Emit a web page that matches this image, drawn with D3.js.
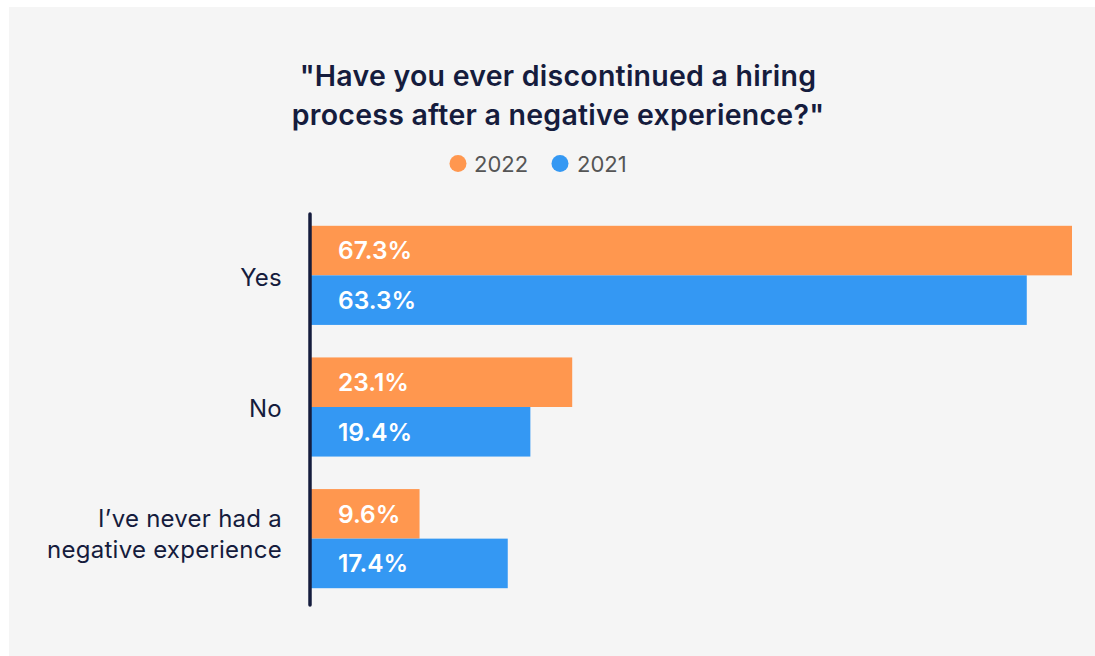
<!DOCTYPE html>
<html>
<head>
<meta charset="utf-8">
<script src="https://cdn.jsdelivr.net/npm/d3@7"></script>
<style>
  html, body { margin: 0; padding: 0; background: #ffffff; }
  svg { display: block; }
</style>
</head>
<body>
<div id="chart"></div>
<script>
// Survey answers and shares per year
const categories = ["Yes", "No", "I\u2019ve never had a negative experience"];
const categoryLines = [["Yes"], ["No"], ["I\u2019ve never had a", "negative experience"]];
const seriesNames = ["2022", "2021"];
const values2022 = [67.3, 23.1, 9.6];
const values2021 = [63.3, 19.4, 17.4];
const seriesColors = ["#ff974f", "#3498f3"];

const W = 1095, H = 656;
const font = "Inter, 'Open Sans', sans-serif";
const navy = "#151c3d";

const svg = d3.select("#chart").append("svg")
  .attr("width", W).attr("height", H);

// Panel background
svg.append("rect")
  .attr("x", 9).attr("y", 7)
  .attr("width", W - 9).attr("height", H - 7)
  .attr("fill", "#f5f5f5");

// Title
const title = svg.append("text")
  .attr("text-anchor", "middle")
  .attr("font-family", font)
  .attr("font-weight", 600)
  .attr("font-size", 28.5)
  .attr("letter-spacing", 0.25)
  .attr("fill", navy);
title.append("tspan").attr("x", 558).attr("y", 86)
  .text("\"Have you ever discontinued a hiring");
title.append("tspan").attr("x", 558).attr("y", 125)
  .text("process after a negative experience?\"");

// Legend
const legendItems = [
  { name: seriesNames[0], color: seriesColors[0], cx: 458, tx: 474 },
  { name: seriesNames[1], color: seriesColors[1], cx: 560, tx: 577 }
];
const lg = svg.append("g");
lg.selectAll("circle").data(legendItems).join("circle")
  .attr("cx", d => d.cx).attr("cy", 163.5).attr("r", 8.5)
  .attr("fill", d => d.color);
lg.selectAll("text").data(legendItems).join("text")
  .attr("x", d => d.tx).attr("y", 171.5)
  .attr("font-family", font).attr("font-size", 22)
  .attr("fill", "#555555")
  .text(d => d.name);

// Scales
const x0 = 311;
const x = d3.scaleLinear().domain([0, 67.3]).range([x0, 1072]);
const y = d3.scaleBand().domain(categories).range([210, 604])
  .paddingInner(0.247).paddingOuter(0.12);
const ySub = d3.scaleBand().domain(seriesNames).range([0, y.bandwidth()]);

const rows = categories.map((c, i) => ({
  category: c,
  lines: categoryLines[i],
  bars: [
    { series: seriesNames[0], value: values2022[i], color: seriesColors[0] },
    { series: seriesNames[1], value: values2021[i], color: seriesColors[1] }
  ]
}));

const groups = svg.append("g").selectAll("g").data(rows).join("g")
  .attr("transform", d => `translate(0,${y(d.category)})`);

groups.selectAll("rect").data(d => d.bars).join("rect")
  .attr("x", x(0))
  .attr("y", d => ySub(d.series))
  .attr("width", d => x(d.value) - x(0))
  .attr("height", ySub.bandwidth())
  .attr("fill", d => d.color);

groups.selectAll("text.val").data(d => d.bars).join("text")
  .attr("class", "val")
  .attr("x", x(0) + 27)
  .attr("y", d => ySub(d.series) + ySub.bandwidth() / 2)
  .attr("dy", "0.36em")
  .attr("font-family", font)
  .attr("font-weight", 600)
  .attr("font-size", 24.5)
  .attr("fill", "#ffffff")
  .text(d => d.value.toFixed(1) + "%");

// Category labels (multi-line labels sit slightly higher than centred)
groups.append("text")
  .attr("text-anchor", "end")
  .attr("font-family", font)
  .attr("font-size", 24)
  .attr("letter-spacing", 0.25)
  .attr("fill", navy)
  .each(function (d) {
    const t = d3.select(this);
    const n = d.lines.length;
    const lh = 31;
    const base = y.bandwidth() / 2 + 10.5 - (n > 1 ? 7 : 0);
    d.lines.forEach((line, k) => {
      t.append("tspan")
        .attr("x", 282)
        .attr("y", base + (k - (n - 1) / 2) * lh)
        .text(line);
    });
  });

// Vertical axis line
svg.append("line")
  .attr("x1", 310).attr("x2", 310)
  .attr("y1", 214).attr("y2", 605)
  .attr("stroke", navy)
  .attr("stroke-width", 3.5)
  .attr("stroke-linecap", "round");
</script>
</body>
</html>
